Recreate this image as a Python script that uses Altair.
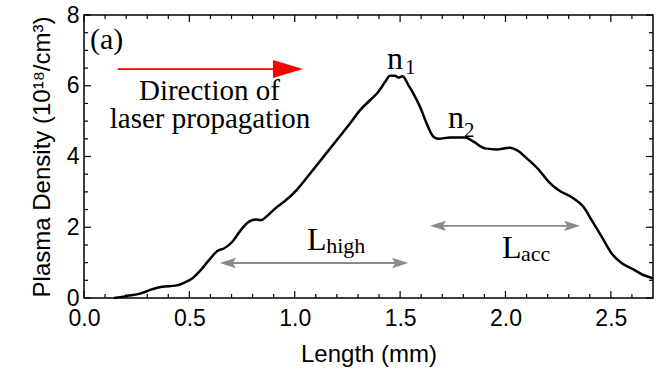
import altair as alt
import pandas as pd

# ---- data ----
length_mm = [0.142, 0.205, 0.27, 0.325, 0.37, 0.435, 0.475, 0.515, 0.554, 0.593,
             0.633, 0.664, 0.704, 0.744, 0.783, 0.815, 0.838, 0.878, 0.917, 0.949,
             1.009, 1.073, 1.136, 1.199, 1.262, 1.310, 1.357, 1.397, 1.429, 1.452,
             1.476, 1.492, 1.512, 1.539, 1.563, 1.595, 1.626, 1.658, 1.682, 1.737,
             1.808, 1.848, 1.903, 1.959, 2.022, 2.054, 2.101, 2.156, 2.204, 2.251,
             2.322, 2.370, 2.409, 2.457, 2.504, 2.552, 2.607, 2.654, 2.700]
density = [0.0, 0.06, 0.13, 0.25, 0.32, 0.35, 0.43, 0.56, 0.79, 1.07,
           1.33, 1.40, 1.59, 1.92, 2.16, 2.22, 2.20, 2.37, 2.58, 2.72,
           3.05, 3.52, 3.99, 4.46, 4.93, 5.31, 5.59, 5.83, 6.11, 6.28,
           6.28, 6.23, 6.27, 6.02, 5.78, 5.40, 4.93, 4.56, 4.50, 4.54,
           4.54, 4.42, 4.23, 4.20, 4.25, 4.18, 3.95, 3.64, 3.29, 3.05,
           2.82, 2.58, 2.20, 1.73, 1.26, 0.98, 0.81, 0.65, 0.56]

x_major = [0.0, 0.5, 1.0, 1.5, 2.0, 2.5]
x_minor = [0.1, 0.2, 0.3, 0.4, 0.6, 0.7, 0.8, 0.9, 1.1, 1.2, 1.3, 1.4,
           1.6, 1.7, 1.8, 1.9, 2.1, 2.2, 2.3, 2.4, 2.6]
y_major = [0, 2, 4, 6, 8]
y_minor = [0.5, 1, 1.5, 2.5, 3, 3.5, 4.5, 5, 5.5, 6.5, 7, 7.5]

# annotation arrows (start, tip, height) in data units
red_arrow_x = [0.16]
red_arrow_x2 = [1.039]
red_arrow_y = [6.47]
gray_arrow_x = [0.645, 1.642]
gray_arrow_x2 = [1.538, 2.354]
gray_arrow_y = [0.99, 2.04]

# texts
main_labels = ["n", "n"]
main_x = [1.476, 1.765]
main_y = [6.47, 4.80]
sub_labels = ["1", "2"]
sub_x = [1.523, 1.803]
sub_y = [6.33, 4.55]
L_labels = ["L", "L"]
L_x = [1.058, 1.984]
L_y = [1.356, 1.13]
Lsub_labels = ["high", "acc"]
Lsub_x = [1.149, 2.074]
Lsub_y = [1.27, 1.05]
dir_labels = ["Direction of", "laser propagation"]
dir_x = [0.595, 0.598]
dir_y = [5.59, 4.80]
panel_label = ["(a)"]
panel_x = [0.028]
panel_y = [7.29]

W, H = 569, 283
xs = alt.Scale(domain=[0, 2.7], nice=False, zero=False)
ys = alt.Scale(domain=[0, 8], nice=False, zero=False)
SERIF = "Liberation Serif"
SANS = "Liberation Sans"

x_axis = alt.Axis(values=x_major, format=".1f", title="Length (mm)",
                  labelPadding=9, titlePadding=12, labelFlush=False)
y_axis = alt.Axis(values=y_major, format="d", title="Plasma Density (10¹⁸/cm³)",
                  labelPadding=5, titlePadding=12, labelFlush=False)


def X(field="x"):
    return alt.X(f"{field}:Q", scale=xs, axis=x_axis)


def Y(field="y"):
    return alt.Y(f"{field}:Q", scale=ys, axis=y_axis)


curve = alt.Chart(pd.DataFrame({"x": length_mm, "y": density})).mark_line(
    color="black", strokeWidth=2.5, interpolate="monotone"
).encode(x=X(), y=Y())

layers = [curve]

# inward ticks on all four sides
for vals, ln in [(x_major, 7), (x_minor, 4)]:
    d = pd.DataFrame({"x": vals})
    layers.append(alt.Chart(d).mark_rule(color="black", strokeWidth=1.2).encode(
        x=X(), y=alt.value(H), y2=alt.value(H - ln)))
    layers.append(alt.Chart(d).mark_rule(color="black", strokeWidth=1.2).encode(
        x=X(), y=alt.value(0), y2=alt.value(ln)))
for vals, ln in [(y_major, 7), (y_minor, 4)]:
    d = pd.DataFrame({"y": vals})
    layers.append(alt.Chart(d).mark_rule(color="black", strokeWidth=1.2).encode(
        y=Y(), x=alt.value(0), x2=alt.value(ln)))
    layers.append(alt.Chart(d).mark_rule(color="black", strokeWidth=1.2).encode(
        y=Y(), x=alt.value(W), x2=alt.value(W - ln)))

# red arrow
red = pd.DataFrame({"x": red_arrow_x, "x2": red_arrow_x2, "y": red_arrow_y})
layers.append(alt.Chart(red).mark_rule(color="#ff0000", strokeWidth=1.6, x2Offset=-12).encode(
    x=X(), x2="x2:Q", y=Y()))
layers.append(alt.Chart(red).mark_point(
    shape="M0,0 L-2,-0.6 L-2,0.6 Z", filled=True, size=900, color="#ff0000",
    opacity=1, strokeWidth=0).encode(x=X("x2"), y=Y()))

# gray double arrows
gray = pd.DataFrame({"x": gray_arrow_x, "x2": gray_arrow_x2, "y": gray_arrow_y})
layers.append(alt.Chart(gray).mark_rule(color="#8a8a8a", strokeWidth=1.8,
                                        xOffset=8, x2Offset=-8).encode(
    x=X(), x2="x2:Q", y=Y()))
layers.append(alt.Chart(gray).mark_point(
    shape="M0,0 L-2,-0.65 L-1.6,0 L-2,0.65 Z", filled=True, size=256, color="#8a8a8a",
    opacity=1, strokeWidth=0).encode(x=X("x2"), y=Y()))
layers.append(alt.Chart(gray).mark_point(
    shape="M0,0 L2,-0.65 L1.6,0 L2,0.65 Z", filled=True, size=256, color="#8a8a8a",
    opacity=1, strokeWidth=0).encode(x=X("x"), y=Y()))


# texts
def text_layer(labels, xv, yv, size, align, baseline="alphabetic"):
    d = pd.DataFrame({"t": labels, "x": xv, "y": yv})
    return alt.Chart(d).mark_text(font=SERIF, fontSize=size, align=align,
                                  baseline=baseline, color="black").encode(
        x=X(), y=Y(), text="t:N")


layers.append(text_layer(main_labels, main_x, main_y, 32, "center"))
layers.append(text_layer(sub_labels, sub_x, sub_y, 21, "left"))
layers.append(text_layer(L_labels, L_x, L_y, 32, "left"))
layers.append(text_layer(Lsub_labels, Lsub_x, Lsub_y, 22, "left"))
layers.append(text_layer(dir_labels, dir_x, dir_y, 29, "center"))
layers.append(text_layer(panel_label, panel_x, panel_y, 30, "left", "middle"))

chart = alt.layer(*layers).properties(
    width=W, height=H,
    autosize=alt.AutoSizeParams(type="none"),
    padding={"left": 84, "top": 15, "right": 8, "bottom": 72},
).configure_view(stroke="black", strokeWidth=1.5).configure_axis(
    domain=False, ticks=False, grid=False,
    labelFont=SANS, labelFontSize=23, labelColor="black",
    titleFont=SANS, titleFontSize=24, titleFontWeight="normal", titleColor="black",
    labelOverlap=False, labelBound=False,
)

chart.save("out.html", embed_options={"renderer": "svg", "actions": False})
